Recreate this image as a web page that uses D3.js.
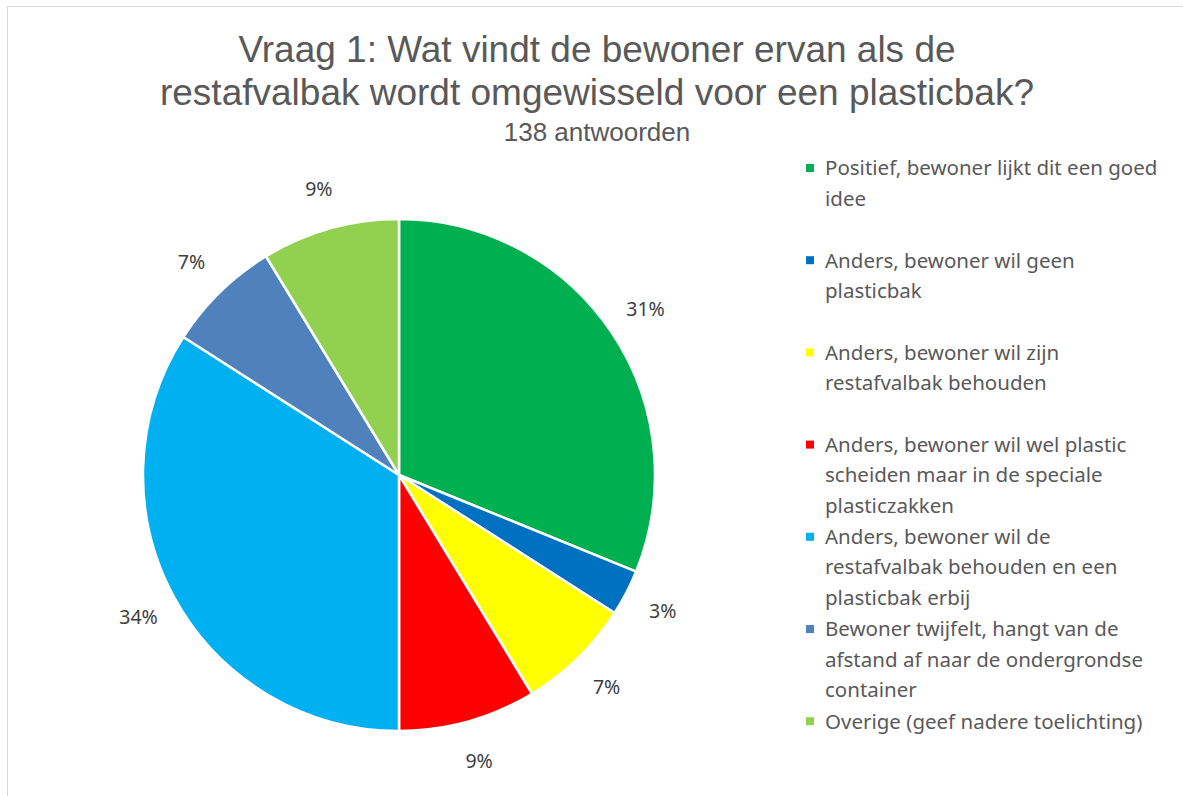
<!DOCTYPE html>
<html>
<head>
<meta charset="utf-8">
<script src="https://cdn.jsdelivr.net/npm/d3@7"></script>
<style>
  body { margin: 0; background: #fff; }
  svg { display: block; }
</style>
</head>
<body>
<div id="chart"></div>
<script>
// answers per category (138 in total)
var categories = [
  "Positief, bewoner lijkt dit een goed idee",
  "Anders, bewoner wil geen plasticbak",
  "Anders, bewoner wil zijn restafvalbak behouden",
  "Anders, bewoner wil wel plastic scheiden maar in de speciale plasticzakken",
  "Anders, bewoner wil de restafvalbak behouden en een plasticbak erbij",
  "Bewoner twijfelt, hangt van de afstand af naar de ondergrondse container",
  "Overige (geef nadere toelichting)"
];
var counts = [43, 4, 10, 12, 47, 10, 12];
var legendLines = [
  ["Positief, bewoner lijkt dit een goed", "idee"],
  ["Anders, bewoner wil geen", "plasticbak"],
  ["Anders, bewoner wil zijn", "restafvalbak behouden"],
  ["Anders, bewoner wil wel plastic", "scheiden maar in de speciale", "plasticzakken"],
  ["Anders, bewoner wil de", "restafvalbak behouden en een", "plasticbak erbij"],
  ["Bewoner twijfelt, hangt van de", "afstand af naar de ondergrondse", "container"],
  ["Overige (geef nadere toelichting)"]
];
var colors = ["#00b050", "#0070c0", "#ffff00", "#ff0000", "#00b0f0", "#4f81bd", "#92d050"];
var titleLines = ["Vraag 1: Wat vindt de bewoner ervan als de", "restafvalbak wordt omgewisseld voor een plasticbak?"];
var subtitle = "138 antwoorden";

var width = 1183, height = 796;
var cx = 399, cy = 475, radius = 256;

var svg = d3.select("#chart").append("svg")
    .attr("width", width)
    .attr("height", height);

// chart area border (runs off the right and bottom)
svg.append("rect")
    .attr("x", 7.5).attr("y", 6.5)
    .attr("width", width).attr("height", height)
    .attr("fill", "none")
    .attr("stroke", "#d9d9d9")
    .attr("stroke-width", 1);

svg.selectAll(".title")
    .data(titleLines)
  .enter().append("text")
    .attr("class", "title")
    .attr("x", 597)
    .attr("y", function(d, i) { return 62 + i * 43; })
    .attr("text-anchor", "middle")
    .style("font-family", "'Liberation Sans', Arial, sans-serif")
    .style("font-size", "37px")
    .style("fill", "#595959")
    .text(function(d) { return d; });

svg.append("text")
    .attr("x", 597).attr("y", 141)
    .attr("text-anchor", "middle")
    .style("font-family", "'Liberation Sans', Arial, sans-serif")
    .style("font-size", "26px")
    .style("fill", "#595959")
    .text(subtitle);

var total = d3.sum(counts);
var pie = d3.pie().sort(null).value(function(d) { return d; });
var arcs = pie(counts);
var arc = d3.arc().innerRadius(0).outerRadius(radius);
var labelArc = d3.arc().innerRadius(297).outerRadius(297);

var g = svg.append("g")
    .attr("transform", "translate(" + cx + "," + cy + ")");

g.selectAll(".slice")
    .data(arcs)
  .enter().append("path")
    .attr("class", "slice")
    .attr("d", arc)
    .attr("fill", function(d, i) { return colors[i]; })
    .attr("stroke", "#fff")
    .attr("stroke-width", 2.5)
    .attr("stroke-linejoin", "round");

var pct = d3.format(".0%");
g.selectAll(".lbl")
    .data(arcs)
  .enter().append("text")
    .attr("class", "lbl")
    .attr("transform", function(d) { return "translate(" + labelArc.centroid(d) + ")"; })
    .attr("text-anchor", "middle")
    .attr("dy", "0.35em")
    .style("font-family", "'Noto Sans', 'Open Sans', sans-serif")
    .style("font-size", "19.5px")
    .style("fill", "#404040")
    .text(function(d) { return pct(d.value / total); });

// legend
var legend = svg.append("g").attr("class", "legend");
var item = legend.selectAll(".item")
    .data(categories)
  .enter().append("g")
    .attr("class", "item")
    .attr("transform", function(d, i) { return "translate(0," + (168 + i * 92.2) + ")"; });

item.append("rect")
    .attr("x", 806).attr("y", -4)
    .attr("width", 8).attr("height", 8)
    .attr("fill", function(d, i) { return colors[i]; });

item.append("text")
    .style("font-family", "'Noto Sans', 'Open Sans', sans-serif")
    .style("font-size", "20.5px")
    .style("fill", "#595959")
  .selectAll("tspan")
    .data(function(d, i) { return legendLines[i]; })
  .enter().append("tspan")
    .attr("x", 825)
    .attr("y", function(d, j) { return j * 30.3; })
    .attr("dy", "0.36em")
    .text(function(d) { return d; });
</script>
</body>
</html>
